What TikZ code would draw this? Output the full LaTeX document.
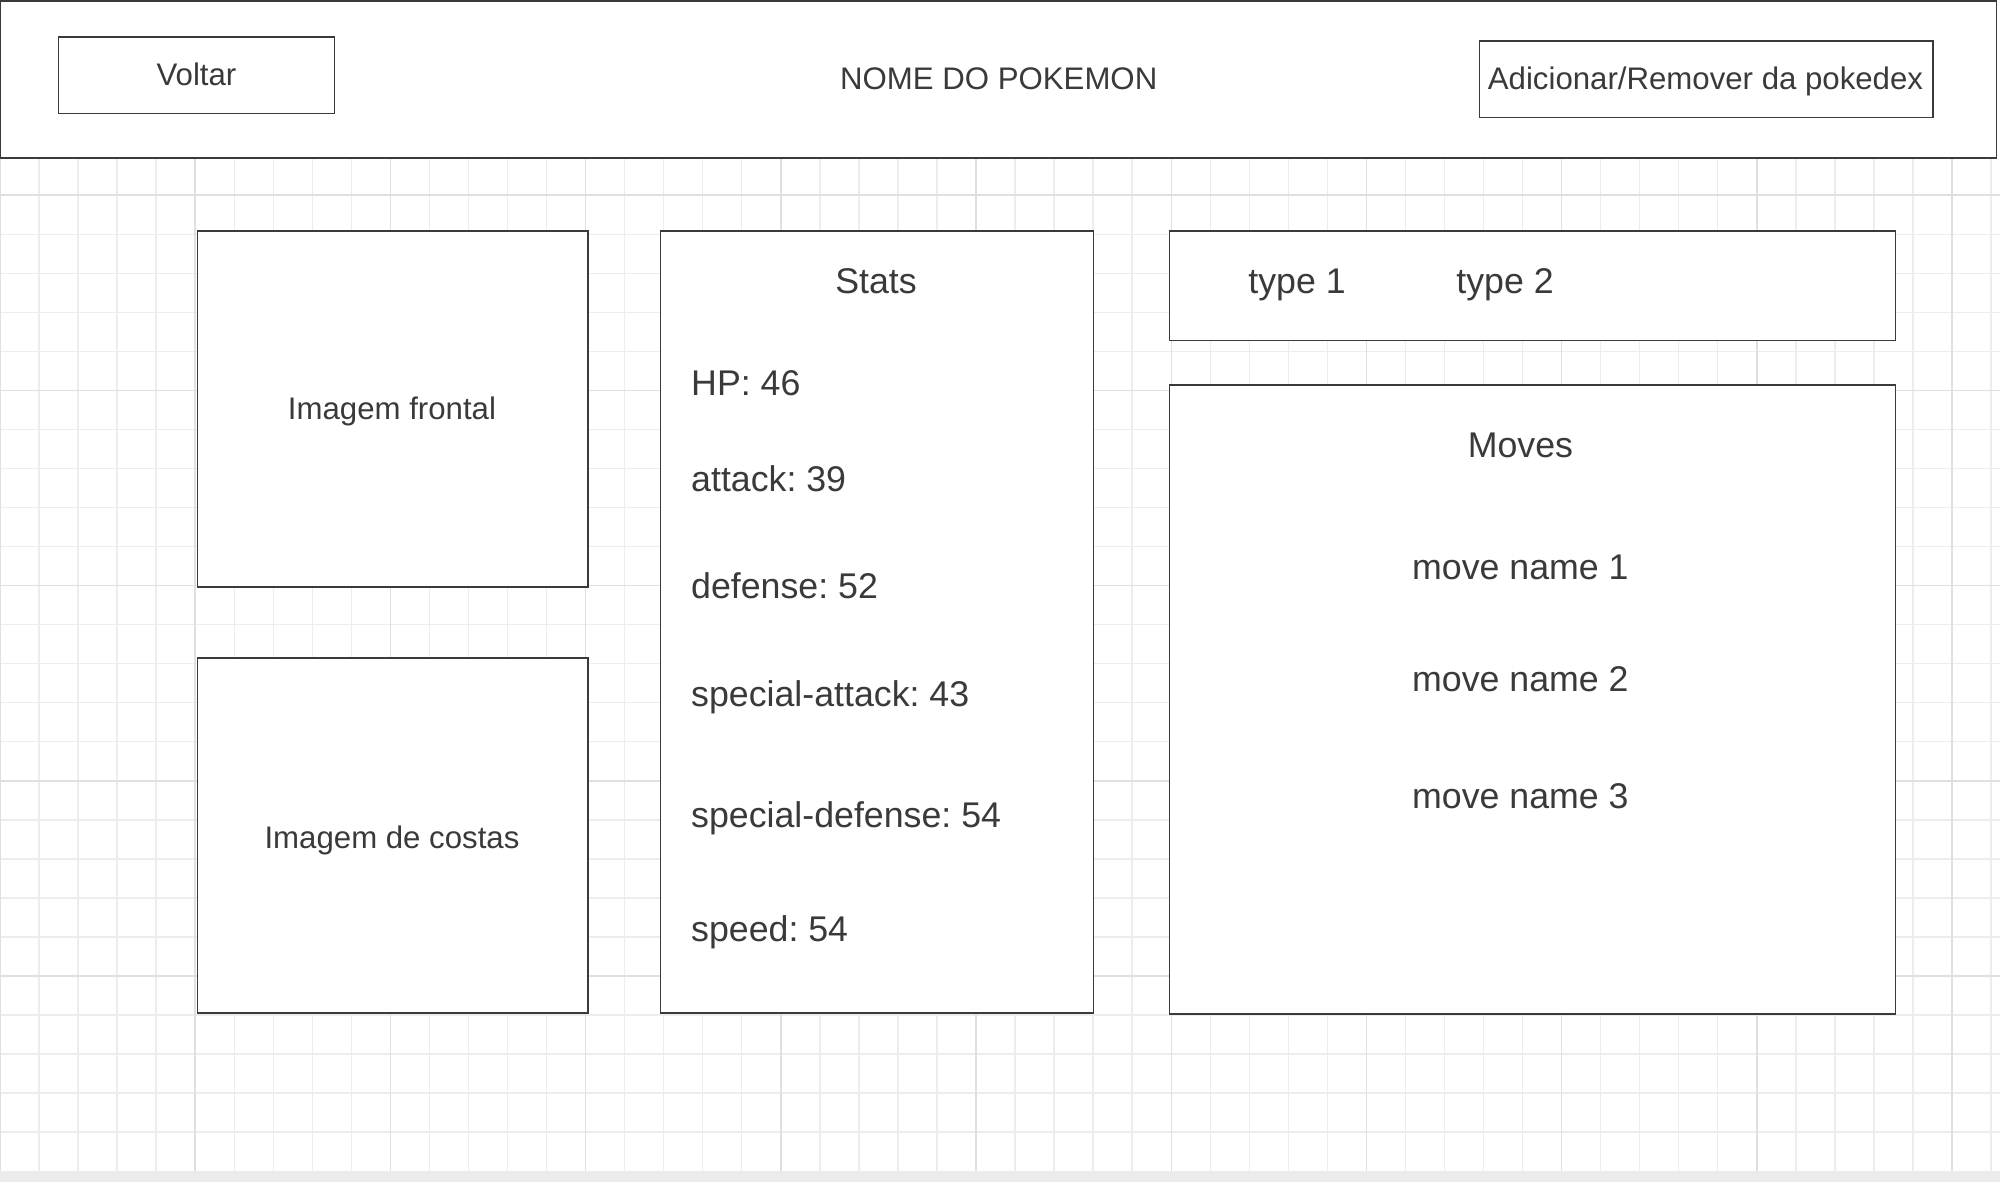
\documentclass[tikz,border=0pt]{standalone}
\usepackage{fontspec}
\setmainfont{Liberation Sans}
\frenchspacing
\definecolor{boxgray}{HTML}{3A3A3A}
\definecolor{txtgray}{HTML}{3A3A3A}
\definecolor{gridminor}{HTML}{EDEDED}
\definecolor{gridmajor}{HTML}{E0E0E0}
\definecolor{bandgray}{HTML}{EBEBEB}
\begin{document}
\begin{tikzpicture}[x=0.01cm, y=-0.01cm,
    box/.style={draw=boxgray, fill=white, line width=0.45pt, inner sep=0pt, outer sep=0pt},
    small/.style={text=txtgray, inner sep=0pt, anchor=base, font=\fontsize{8.87}{10}\selectfont},
    big/.style={text=txtgray, inner sep=0pt, anchor=base, font=\fontsize{10.16}{12}\selectfont},
    stat/.style={big, anchor=base west}]
      \useasboundingbox (0,0) rectangle (2000,1182);
      \fill[white] (0,0) rectangle (2000,1182);
      \fill[bandgray] (0,1171) rectangle (2000,1182);
      % grid
      \foreach \i in {0,...,51} \draw[gridminor, line width=0.4pt] (\i*39.04,158) -- (\i*39.04,1171);
      \foreach \j in {5,...,29} \draw[gridminor, line width=0.4pt] (0,\j*39.04) -- (2000,\j*39.04);
      \foreach \i in {0,5,...,50} \draw[gridmajor, line width=0.4pt] (\i*39.04,158) -- (\i*39.04,1171);
      \foreach \j in {5,10,...,25} \draw[gridmajor, line width=0.4pt] (0,\j*39.04) -- (2000,\j*39.04);
      % header
      \node[box, minimum width=19.95cm, minimum height=1.57cm] (header) at (998.5,79.5) {};
      \node[box, minimum width=2.755cm, minimum height=0.765cm] (voltarbox) at (196.5,75.3) {};
      \node[box, minimum width=4.53cm, minimum height=0.763cm] (addbox) at (1706.1,79.4) {};
      \node[small] (voltar) at (196.5,86) {Voltar};
      \node[small] (nome) at (998.7,90) {NOME DO POKEMON};
      \node[small] (add) at (1705.5,89.5) {Adicionar/Remover da pokedex};
      % images
      \node[box, minimum width=3.903cm, minimum height=3.557cm] (frontalbox) at (392.9,408.9) {};
      \node[box, minimum width=3.903cm, minimum height=3.55cm] (costasbox) at (392.9,835.5) {};
      \node[small] (frontal) at (392,419) {Imagem frontal};
      \node[small] (costas) at (392,848) {Imagem de costas};
      % stats
      \node[box, minimum width=4.328cm, minimum height=7.82cm] (statsbox) at (877.1,622) {};
      \node[big] (stats) at (876,293) {Stats};
      \node[stat] (hp) at (690.5,395.7) {HP: 46};
      \node[stat] (atk) at (690.5,491.7) {attack: 39};
      \node[stat] (def) at (690.5,598.3) {defense: 52};
      \node[stat] (spatk) at (690.5,706.8) {special-attack: 43};
      \node[stat] (spdef) at (690.5,827.8) {special-defense: 54};
      \node[stat] (spd) at (690.5,941.4) {speed: 54};
      % types and moves
      \node[box, minimum width=7.258cm, minimum height=1.093cm] (typebox) at (1532.5,285.7) {};
      \node[big] (type1) at (1297,293) {type 1};
      \node[big] (type2) at (1505,293) {type 2};
      \node[box, minimum width=7.258cm, minimum height=6.285cm] (movesbox) at (1532.5,699.3) {};
      \node[big] (moves) at (1520.4,457.8) {Moves};
      \node[big] (move1) at (1520.4,579) {move name 1};
      \node[big] (move2) at (1520.4,691.4) {move name 2};
      \node[big] (move3) at (1520.4,808.8) {move name 3};
    \end{tikzpicture}
\end{document}
